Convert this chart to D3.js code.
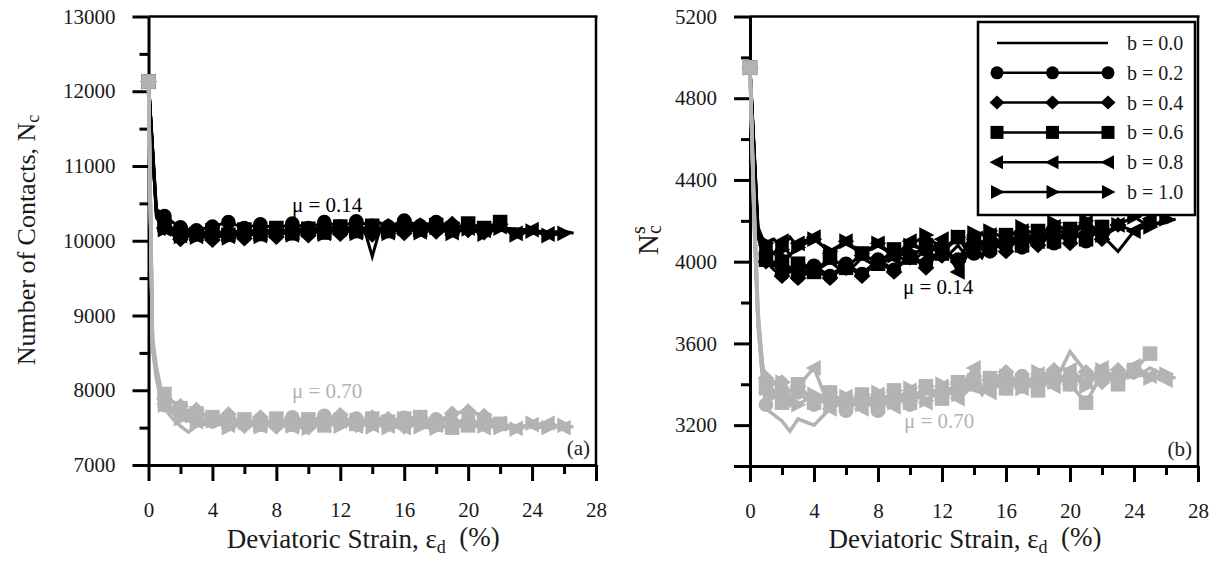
<!DOCTYPE html>
<html>
<meta charset="utf-8">
<head>
    <script src="https://d3js.org/d3.v7.min.js"></script>
    <style>
        body { margin: 0; background: #fff; }
        text { font-family: "Liberation Serif", "Times New Roman", serif; fill: #1a1a1a; }
    </style>
</head>
<body>
    <div id="chart"></div>
</body>

<script>
    // strain grid shared by all runs (%)
    const strain = [0, 0.25, 0.5, 0.75, 1, 1.5, 2, 2.5, 3, 4, 5, 6, 7, 8, 9, 10, 11, 12, 13, 13.5, 14, 14.5, 15, 16, 17, 18, 19, 20, 21, 22, 23, 24, 25, 26, 26.6];
    const bLabels = ["b = 0.0", "b = 0.2", "b = 0.4", "b = 0.6", "b = 0.8", "b = 1.0"];
    const markerTypes = ["none", "circle", "diamond", "square", "triLeft", "triRight"];

    // (a) number of contacts, mu = 0.14
    const nc014_b00 = [12130, 11250, 10380, 10280, 10220, 10170, 10130, 10110, 10100, 10110, 10120, 10130, 10140, 10130, 10150, 10160, 10170, 10180, 10170, 10160, 9790, 10170, 10190, 10200, 10210, 10190, 10180, 10190, 10200, 10170, 10160, 10140, 10110, 10130, 10100];
    const nc014_b02 = [12130, 11260, 10420, 10380, 10330, 10250, 10180, 10150, 10140, 10190, 10250, 10170, 10220, 10160, 10230, 10170, 10250, 10190, 10260, 10230, 10200, 10240, 10190, 10270, 10200, 10250, 10190];
    const nc014_b04 = [12130, 11240, 10360, 10250, 10170, 10080, 10020, 10060, 10090, 10010, 10110, 10030, 10140, 10050, 10150, 10070, 10180, 10090, 10160, 10120, 10080, 10150, 10200, 10100, 10210, 10120, 10230, 10140, 10110, 10220];
    const nc014_b06 = [12130, 11230, 10330, 10260, 10210, 10140, 10100, 10130, 10090, 10140, 10080, 10150, 10090, 10170, 10100, 10160, 10110, 10190, 10130, 10170, 10200, 10150, 10130, 10200, 10150, 10210, 10160, 10230, 10170, 10250];
    const nc014_b08 = [12130, 11230, 10320, 10230, 10160, 10110, 10070, 10100, 10060, 10110, 10060, 10130, 10070, 10140, 10080, 10150, 10100, 10160, 10110, 10150, 10180, 10130, 10110, 10180, 10120, 10190, 10110, 10170, 10140, 10190, 10100, 10150, 10090];
    const nc014_b10 = [12130, 11220, 10310, 10220, 10150, 10100, 10060, 10090, 10050, 10100, 10040, 10120, 10060, 10130, 10080, 10140, 10090, 10170, 10100, 10130, 10160, 10120, 10100, 10170, 10110, 10180, 10100, 10160, 10090, 10170, 10080, 10130, 10070, 10100];

    // (a) number of contacts, mu = 0.70
    const nc070_b00 = [12130, 8550, 8150, 7900, 7760, 7620, 7520, 7440, 7520, 7560, 7540, 7530, 7560, 7540, 7520, 7550, 7530, 7560, 7540, 7550, 7530, 7540, 7560, 7530, 7550, 7520, 7540, 7510, 7530, 7500, 7520, 7510, 7500, 7520, 7510];
    const nc070_b02 = [12130, 8650, 8250, 7980, 7800, 7760, 7720, 7680, 7640, 7580, 7620, 7560, 7610, 7550, 7640, 7570, 7660, 7580, 7620, 7600, 7560, 7620, 7570, 7630, 7560, 7610, 7570];
    const nc070_b04 = [12130, 8700, 8300, 8050, 7880, 7840, 7790, 7680, 7740, 7620, 7680, 7520, 7640, 7510, 7630, 7500, 7610, 7670, 7530, 7560, 7640, 7550, 7620, 7510, 7640, 7560, 7690, 7720, 7660, 7540];
    const nc070_b06 = [12130, 8680, 8280, 8030, 7950, 7850, 7760, 7720, 7690, 7640, 7580, 7610, 7540, 7620, 7540, 7610, 7530, 7600, 7550, 7590, 7620, 7540, 7580, 7620, 7640, 7540, 7500, 7530, 7600, 7550];
    const nc070_b08 = [12130, 8620, 8200, 7950, 7820, 7730, 7660, 7640, 7580, 7610, 7530, 7590, 7520, 7590, 7510, 7600, 7530, 7590, 7520, 7570, 7530, 7600, 7520, 7500, 7590, 7530, 7510, 7580, 7500, 7560, 7490, 7540, 7560, 7500];
    const nc070_b10 = [12130, 8600, 8180, 7930, 7800, 7700, 7620, 7590, 7560, 7590, 7500, 7570, 7510, 7590, 7520, 7490, 7580, 7520, 7600, 7540, 7510, 7580, 7500, 7570, 7510, 7490, 7570, 7600, 7520, 7500, 7480, 7560, 7500, 7530];

    // (b) strong contacts, mu = 0.14
    const ncs014_b00 = [4950, 4560, 4120, 4060, 4030, 3990, 4040, 3960, 4010, 3950, 4000, 3940, 4020, 3970, 4040, 3990, 4060, 4000, 4080, 4030, 4070, 4020, 4100, 4060, 4120, 4070, 4150, 4100, 4160, 4130, 4050, 4150, 4180, 4190, 4210];
    const ncs014_b02 = [4950, 4550, 4150, 4080, 4040, 3990, 3940, 3960, 3930, 3980, 3930, 3990, 3940, 4010, 3960, 4030, 3990, 4060, 4010, 4070, 4040, 4090, 4050, 4120, 4070, 4140, 4090, 4150, 4100, 4170];
    const ncs014_b04 = [4950, 4520, 4130, 4050, 4000, 3960, 3930, 3970, 3920, 3960, 3920, 3980, 3930, 4000, 3950, 4030, 3970, 4060, 4000, 4040, 4090, 4030, 4100, 4050, 4130, 4080, 4150, 4090, 4170, 4110, 4180];
    const ncs014_b06 = [4950, 4530, 4140, 4060, 4010, 3980, 4000, 3950, 3990, 3950, 4020, 3970, 4040, 3990, 4060, 4020, 4080, 4040, 4120, 4060, 4100, 4140, 4070, 4130, 4080, 4150, 4100, 4160, 4110, 4170];
    const ncs014_b08 = [4950, 4560, 4160, 4100, 4080, 4040, 4100, 4030, 4090, 4120, 4040, 4100, 4030, 4090, 4020, 4100, 4040, 4110, 3950, 4020, 4110, 4060, 4130, 4080, 4150, 4100, 4170, 4120, 4190, 4130, 4180, 4150, 4210];
    const ncs014_b10 = [4950, 4570, 4170, 4120, 4090, 4110, 4060, 4120, 4070, 4110, 4050, 4100, 4040, 4090, 4030, 4080, 4130, 4060, 4120, 4080, 4140, 4090, 4150, 4110, 4170, 4120, 4190, 4140, 4200, 4130, 4180, 4220, 4170, 4210];

    // (b) strong contacts, mu = 0.70
    const ncs070_b00 = [4950, 4200, 3700, 3450, 3280, 3250, 3220, 3170, 3230, 3200, 3280, 3320, 3300, 3330, 3310, 3350, 3360, 3340, 3380, 3400, 3370, 3360, 3390, 3410, 3380, 3420, 3400, 3560, 3460, 3420, 3460, 3430, 3480, 3440, 3430];
    const ncs070_b02 = [4950, 4300, 3760, 3520, 3300, 3340, 3370, 3320, 3360, 3300, 3340, 3270, 3330, 3270, 3340, 3300, 3380, 3330, 3400, 3360, 3410, 3370, 3430, 3380, 3440, 3390, 3450];
    const ncs070_b04 = [4950, 4250, 3720, 3500, 3430, 3360, 3410, 3330, 3390, 3320, 3360, 3300, 3350, 3300, 3370, 3320, 3390, 3340, 3410, 3370, 3440, 3380, 3420, 3460, 3390, 3430, 3470, 3400, 3460, 3410, 3470];
    const ncs070_b06 = [4950, 4280, 3740, 3510, 3390, 3350, 3310, 3370, 3400, 3310, 3360, 3300, 3350, 3290, 3370, 3310, 3390, 3330, 3410, 3370, 3400, 3350, 3430, 3380, 3420, 3370, 3440, 3400, 3310, 3450, 3400, 3470, 3550];
    const ncs070_b08 = [4950, 4220, 3690, 3470, 3360, 3410, 3350, 3300, 3390, 3480, 3280, 3340, 3280, 3350, 3290, 3370, 3310, 3390, 3330, 3420, 3480, 3380, 3360, 3430, 3380, 3450, 3390, 3470, 3410, 3480, 3420, 3490, 3440, 3420];
    const ncs070_b10 = [4950, 4240, 3710, 3480, 3380, 3340, 3410, 3340, 3300, 3350, 3290, 3340, 3300, 3360, 3310, 3380, 3320, 3400, 3350, 3380, 3420, 3360, 3400, 3440, 3380, 3460, 3410, 3450, 3390, 3470, 3420, 3460, 3430, 3450];

    const xTicks = [0, 4, 8, 12, 16, 20, 24, 28];
    const xMinorTicks = [2, 6, 10, 14, 18, 22, 26];

    const BLACK = "#000", GREY = "#b3b3b3";

    const svg = d3.select("#chart")
        .append("svg")
            .attr("width", 1221)
            .attr("height", 569);

    // marker shapes, centred on 0,0, k = scale
    function markerPath(type, k) {
        const a = 6.5 * k, b = 7.5 * k, c = 6 * k;
        if (type === "circle") return d3.symbol(d3.symbolCircle, Math.PI * a * a)();
        if (type === "square") return `M${-a},${-a}H${a}V${a}H${-a}Z`;
        if (type === "diamond") return `M${-b},0L0,${-b + 0.5}L${b},0L0,${b - 0.5}Z`;
        if (type === "triLeft") return `M${-b},0L${c},${-b + 0.5}L${c},${b - 0.5}Z`;
        if (type === "triRight") return `M${b},0L${-c},${-b + 0.5}L${-c},${b - 0.5}Z`;
        return null;
    }

    function drawPanel(p) {
        const g = svg.append("g");
        const x = d3.scaleLinear().domain([0, 28]).range([p.left, p.right]);
        const y = d3.scaleLinear().domain(p.yDomain).range([p.bottom, p.top]);

        // axes
        const xAxis = g.append("g")
            .attr("transform", `translate(0,${p.bottom})`)
            .call(d3.axisBottom(x).tickValues(xTicks).tickSize(16).tickSizeOuter(0).tickPadding(21));
        const xMinor = g.append("g")
            .attr("transform", `translate(0,${p.bottom})`)
            .call(d3.axisBottom(x).tickValues(xMinorTicks).tickSize(9).tickFormat(""));
        xMinor.select(".domain").remove();

        g.append("g")
            .attr("transform", `translate(${p.left},0)`)
            .call(d3.axisLeft(y).tickValues(p.yTicks).tickSize(16).tickSizeOuter(0).tickPadding(17).tickFormat(d3.format("d")));
        const yLong = g.append("g")
            .attr("transform", `translate(${p.left},0)`)
            .call(d3.axisLeft(y).tickValues(p.yLongTicks).tickSize(16).tickFormat(""));
        yLong.select(".domain").remove();
        const yMinor = g.append("g")
            .attr("transform", `translate(${p.left},0)`)
            .call(d3.axisLeft(y).tickValues(p.yMinorTicks).tickSize(9).tickFormat(""));
        yMinor.select(".domain").remove();

        g.selectAll(".domain, .tick line").attr("stroke", "#000").attr("stroke-width", 3);
        g.selectAll(".tick text").style("font-size", "21px").attr("fill", "#1a1a1a")
            .style("font-family", "'Liberation Serif', serif");
        xAxis.selectAll(".tick text").attr("dy", "0.71em");

        // frame top + right
        g.append("line").attr("x1", p.left).attr("x2", p.right + 1.5).attr("y1", p.top).attr("y2", p.top)
            .attr("stroke", "#000").attr("stroke-width", 2.5);
        g.append("line").attr("x1", p.right).attr("x2", p.right).attr("y1", p.top).attr("y2", p.bottom)
            .attr("stroke", "#000").attr("stroke-width", 2.5);

        const line = d3.line().x(d => x(d[0])).y(d => y(d[1]));

        // black runs first, grey on top
        [[p.black, BLACK, 3], [p.grey, GREY, 3.5]].forEach(([set, colour, lw]) => {
            set.forEach((vals, i) => {
                const pts = vals.map((v, k) => [strain[k], v]);
                g.append("path")
                    .datum(pts)
                    .attr("d", line)
                    .attr("fill", "none")
                    .attr("stroke", colour)
                    .attr("stroke-width", lw)
                    .attr("stroke-linejoin", "miter");
                const shape = markerPath(markerTypes[i], 1.12);
                if (!shape) return;
                g.selectAll(null)
                    .data(pts.filter(d => d[0] === 0 || (d[0] >= 1 && Number.isInteger(d[0]))))
                    .join("path")
                        .attr("d", shape)
                        .attr("transform", d => `translate(${x(d[0])},${y(d[1])})`)
                        .attr("fill", colour);
            });
        });

        // curve labels
        g.append("text").attr("x", p.lab014[0]).attr("y", p.lab014[1])
            .style("font-size", "21px").style("fill", "#000").text("μ = 0.14");
        g.append("text").attr("x", p.lab070[0]).attr("y", p.lab070[1])
            .style("font-size", "21px").style("fill", GREY).text("μ = 0.70");
        g.append("text").attr("x", p.right - 6).attr("y", p.bottom - 10)
            .attr("text-anchor", "end").style("font-size", "21px").text(p.tag);

        // x title
        const xt = g.append("text")
            .attr("x", (p.left + p.right) / 2 - 9).attr("y", 548)
            .attr("text-anchor", "middle").style("font-size", "27px");
        xt.append("tspan").text("Deviatoric Strain, ε");
        xt.append("tspan").attr("dy", "0.25em").style("font-size", "18px").text("d");
        xt.append("tspan").attr("dy", "-0.25em").text("\u00a0\u00a0(%)");

        return { g, x, y };
    }

    // panel (a)
    drawPanel({
        left: 148.5, right: 596, top: 16.5, bottom: 465,
        yDomain: [7000, 13000],
        yTicks: [7000, 8000, 9000, 10000, 11000, 12000, 13000],
        yLongTicks: [],
        yMinorTicks: [7500, 8500, 9500, 10500, 11500, 12500],
        black: [nc014_b00, nc014_b02, nc014_b04, nc014_b06, nc014_b08, nc014_b10],
        grey: [nc070_b00, nc070_b02, nc070_b04, nc070_b06, nc070_b08, nc070_b10],
        lab014: [292, 212], lab070: [292, 398], tag: "(a)"
    });

    // panel (b)
    drawPanel({
        left: 750, right: 1198, top: 16.5, bottom: 466,
        yDomain: [3000, 5200],
        yTicks: [3200, 3600, 4000, 4400, 4800, 5200],
        yLongTicks: [3000],
        yMinorTicks: [3400, 3800, 4200, 4600, 5000],
        black: [ncs014_b00, ncs014_b02, ncs014_b04, ncs014_b06, ncs014_b08, ncs014_b10],
        grey: [ncs070_b00, ncs070_b02, ncs070_b04, ncs070_b06, ncs070_b08, ncs070_b10],
        lab014: [903, 294], lab070: [904, 428], tag: "(b)"
    });

    // y titles
    const ytA = svg.append("text")
        .attr("transform", "translate(35,240) rotate(-90)")
        .attr("text-anchor", "middle").style("font-size", "26px");
    ytA.append("tspan").text("Number of Contacts, N");
    ytA.append("tspan").attr("dy", "0.2em").style("font-size", "18px").text("c");

    const ytB = svg.append("text")
        .attr("transform", "translate(658,240) rotate(-90)")
        .attr("text-anchor", "middle").style("font-size", "29px");
    ytB.append("tspan").text("N");
    ytB.append("tspan").attr("dy", "0.15em").style("font-size", "20px").text("c");
    ytB.append("tspan").attr("dx", "-9").attr("dy", "-0.8em").style("font-size", "20px").text("s");

    // legend
    const leg = svg.append("g");
    leg.append("rect").attr("x", 978).attr("y", 22).attr("width", 217).attr("height", 193)
        .attr("fill", "#fff").attr("stroke", "#000").attr("stroke-width", 2.5);
    bLabels.forEach((lab, i) => {
        const ly = 43 + i * 29.8;
        leg.append("line").attr("x1", 997).attr("x2", 1108).attr("y1", ly).attr("y2", ly)
            .attr("stroke", "#000").attr("stroke-width", 2.5);
        const shape = markerPath(markerTypes[i], 1);
        if (shape) {
            [997, 1052.5, 1108].forEach(mx => {
                leg.append("path").attr("d", shape).attr("transform", `translate(${mx},${ly})`).attr("fill", "#000");
            });
        }
        leg.append("text").attr("x", 1127).attr("y", ly).attr("dy", "0.35em")
            .style("font-size", "20px").text(lab);
    });
</script>
</html>
